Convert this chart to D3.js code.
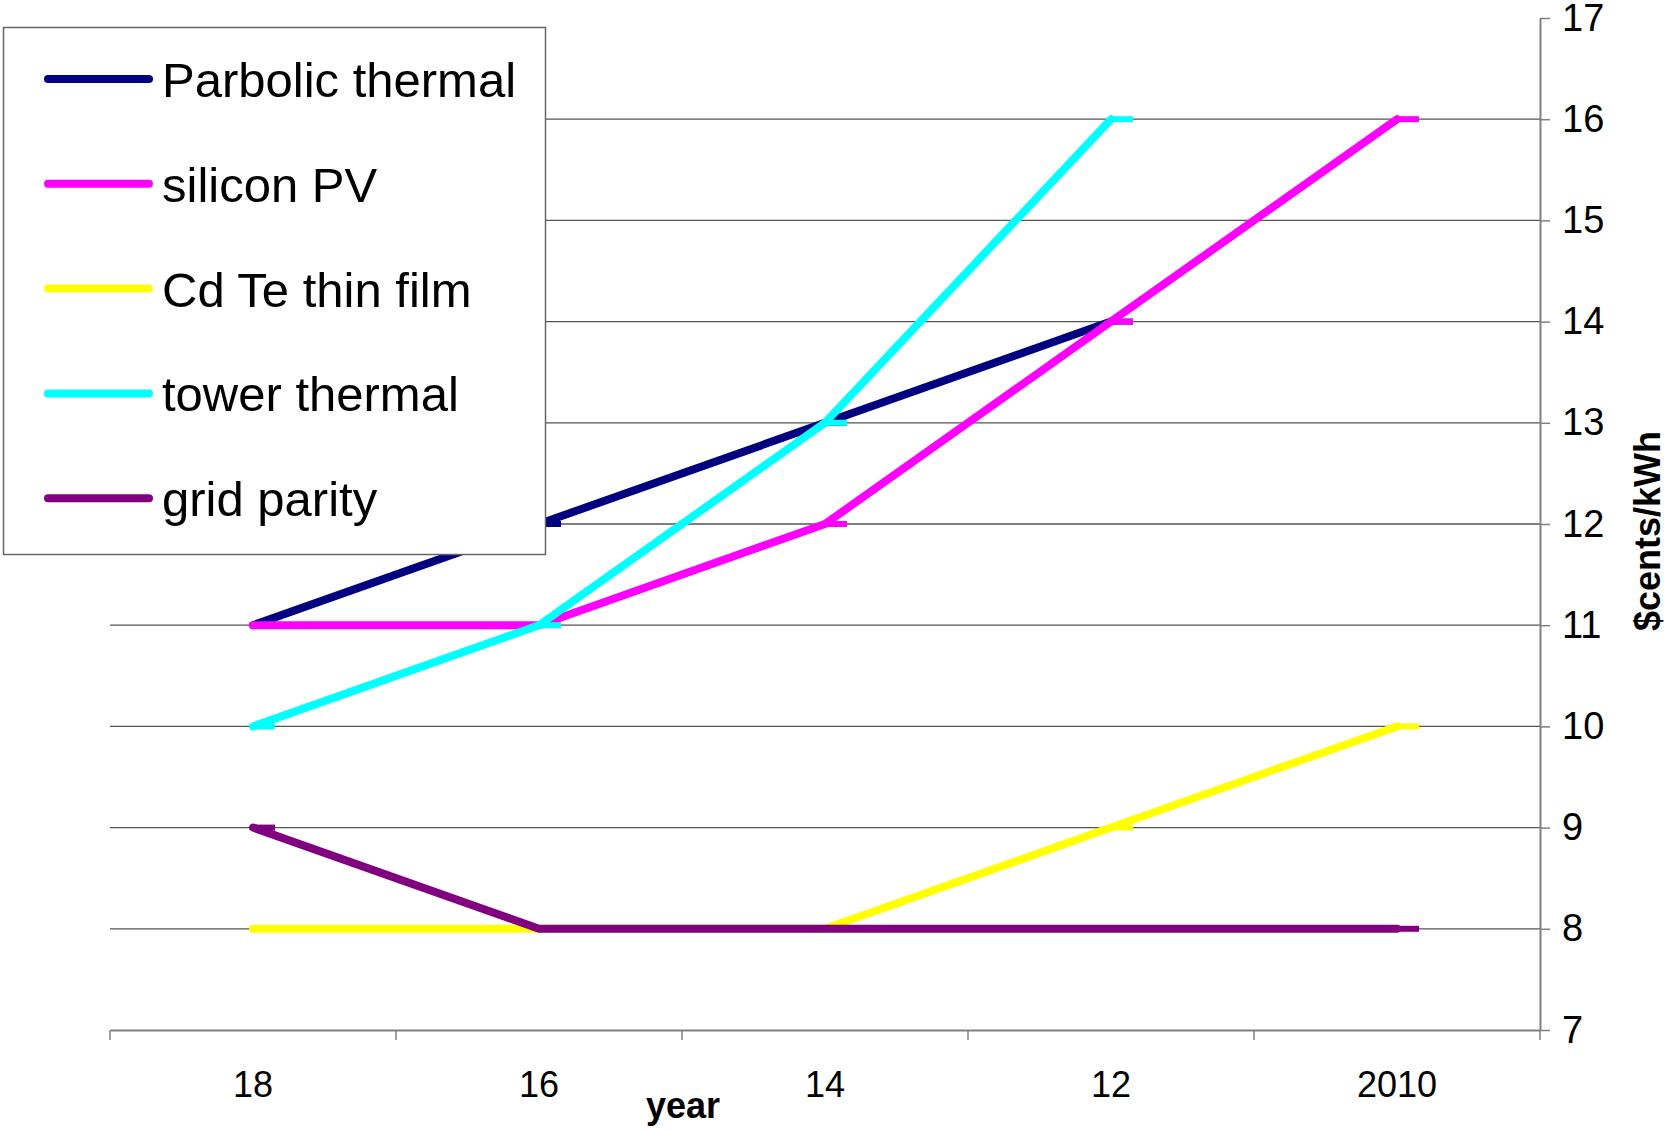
<!DOCTYPE html>
<html>
<head>
<meta charset="utf-8">
<script src="https://cdn.jsdelivr.net/npm/d3@7"></script>
<style>
  body { margin: 0; background: #fff; }
  text { font-family: "Liberation Sans", Arial, sans-serif; }
</style>
</head>
<body>
<div id="chart"></div>
<script>
// categories (Excel style: reversed year order)
const years = ["18", "16", "14", "12", "2010"];
const yTicks = [7, 8, 9, 10, 11, 12, 13, 14, 15, 16, 17];

// series values, null = no point
const parabolic = [11, 12, 13, 14, null];
const siliconPV = [11, 11, 12, 14, 16];
const cdTe = [8, 8, 8, 9, 10];
const tower = [10, 11, 13, 16, null];
const gridParity = [9, 8, 8, 8, 8];

const seriesNames = ["Parbolic thermal", "silicon PV", "Cd Te thin film", "tower thermal", "grid parity"];
const seriesColors = ["#000080", "#FF00FF", "#FFFF00", "#00FFFF", "#800080"];
const seriesValues = [parabolic, siliconPV, cdTe, tower, gridParity];

const W = 1672, H = 1131;
const margin = { top: 18, right: 132, bottom: 101, left: 110 };
const plotW = W - margin.left - margin.right;
const plotH = H - margin.top - margin.bottom;

const svg = d3.select("#chart")
  .append("svg")
  .attr("width", W)
  .attr("height", H);

const g = svg.append("g")
  .attr("transform", `translate(${margin.left},${margin.top})`);

const x = d3.scaleBand().domain(years).range([0, plotW]);
const y = d3.scaleLinear().domain([7, 17]).range([plotH, 0]);
const cx = d => x(d) + x.bandwidth() / 2;

// gridlines
g.append("g")
  .selectAll("line")
  .data(yTicks.filter(t => t > 7 && t < 17))
  .enter()
  .append("line")
  .attr("x1", 0)
  .attr("x2", plotW)
  .attr("y1", d => y(d))
  .attr("y2", d => y(d))
  .attr("stroke", "#555")
  .attr("stroke-width", 1.3);

// y axis on the right
const yAxis = g.append("g")
  .attr("transform", `translate(${plotW},0)`)
  .call(d3.axisRight(y).tickValues(yTicks).tickFormat(d3.format("d")).tickSizeInner(10).tickSizeOuter(0).tickPadding(12));
yAxis.select(".domain").attr("stroke", "#808080").attr("stroke-width", 2);
yAxis.selectAll(".tick line").attr("stroke", "#808080").attr("stroke-width", 1.5);
yAxis.selectAll(".tick text")
  .attr("font-size", 38)
  .attr("font-family", "Liberation Sans, Arial, sans-serif")
  .attr("fill", "#000");

// x axis: labels at band centres, ticks at band boundaries
const xAxis = g.append("g")
  .attr("transform", `translate(0,${plotH})`)
  .call(d3.axisBottom(x).tickSize(0).tickPadding(41));
xAxis.select(".domain").attr("stroke", "#808080").attr("stroke-width", 2);
xAxis.selectAll(".tick text")
  .attr("font-size", 36)
  .attr("font-family", "Liberation Sans, Arial, sans-serif")
  .attr("fill", "#000");

const boundaries = years.map(d => x(d)).concat([plotW]);
xAxis.selectAll(".bound")
  .data(boundaries)
  .enter()
  .append("line")
  .attr("class", "bound")
  .attr("x1", d => d)
  .attr("x2", d => d)
  .attr("y1", 0)
  .attr("y2", 10)
  .attr("stroke", "#808080")
  .attr("stroke-width", 1.5);

// lines
const line = d3.line()
  .defined(d => d.v != null)
  .x(d => cx(d.year))
  .y(d => y(d.v));

seriesValues.forEach((vals, i) => {
  const pts = vals.map((v, j) => ({ year: years[j], v: v }));
  g.append("path")
    .datum(pts)
    .attr("fill", "none")
    .attr("stroke", seriesColors[i])
    .attr("stroke-width", 8)
    .attr("stroke-linecap", "round")
    .attr("stroke-linejoin", "round")
    .attr("d", line);

  // small dash markers
  g.append("g")
    .selectAll("line")
    .data(pts.filter(d => d.v != null))
    .enter()
    .append("line")
    .attr("x1", d => cx(d.year))
    .attr("x2", d => cx(d.year) + 22)
    .attr("y1", d => y(d.v))
    .attr("y2", d => y(d.v))
    .attr("stroke", seriesColors[i])
    .attr("stroke-width", 6);
});

// axis titles
svg.append("text")
  .attr("x", 683)
  .attr("y", 1118)
  .attr("text-anchor", "middle")
  .attr("font-size", 36)
  .attr("font-weight", "bold")
  .text("year");

svg.append("text")
  .attr("transform", "translate(1660,531) rotate(-90)")
  .attr("text-anchor", "middle")
  .attr("font-size", 36)
  .attr("font-weight", "bold")
  .text("$cents/kWh");

// legend
const legend = svg.append("g").attr("class", "legend");
legend.append("rect")
  .attr("x", 3.5)
  .attr("y", 27.5)
  .attr("width", 542)
  .attr("height", 527)
  .attr("fill", "#fff")
  .attr("stroke", "#666")
  .attr("stroke-width", 1.5);

const items = legend.selectAll(".item")
  .data(seriesNames)
  .enter()
  .append("g")
  .attr("class", "item")
  .attr("transform", (d, i) => `translate(0,${79 + i * 104.8})`);

items.append("line")
  .attr("x1", 48)
  .attr("x2", 149)
  .attr("y1", 0)
  .attr("y2", 0)
  .attr("stroke", (d, i) => seriesColors[i])
  .attr("stroke-width", 8)
  .attr("stroke-linecap", "round");

items.append("text")
  .attr("x", 162)
  .attr("y", 18)
  .attr("font-size", 49)
  .attr("fill", "#000")
  .text(d => d);
</script>
</body>
</html>
